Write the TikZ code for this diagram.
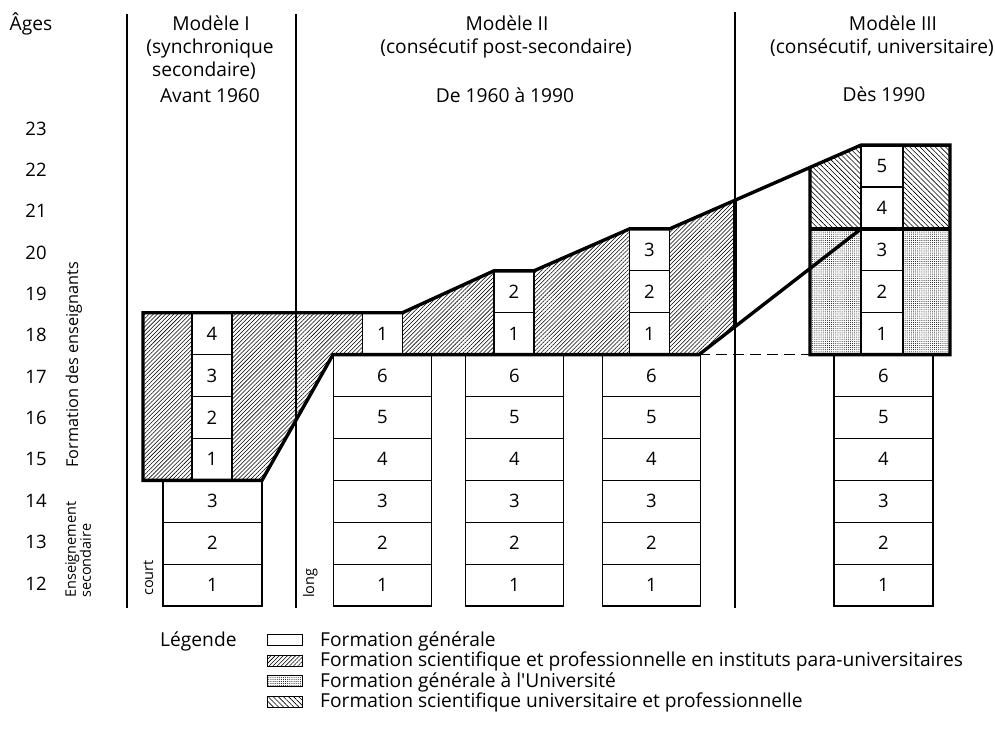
\documentclass[tikz,border=0pt]{standalone}
\usepackage{fontspec}
\setmainfont{Open Sans}
\newfontfamily\plainfont{Open Sans}
\usetikzlibrary{patterns,patterns.meta}
\newcommand\mainfs{\fontsize{19.2}{22}\selectfont}
\newcommand\numfs{\fontsize{18.5}{22}\selectfont}
\newcommand\smallfs{\fontsize{14.5}{15}\selectfont}
\newcommand\midfs{\fontsize{16.3}{17}\selectfont}
\begin{document}
\begin{tikzpicture}[x=1pt,y=-1pt,
  gbox/.style={draw, line width=1.2pt, fill=white, inner sep=0pt, minimum height=41.9pt, font=\numfs},
  hatchpu/.style={pattern={Lines[angle=45,distance=2.9pt,line width=0.55pt]}},
  hatchun/.style={pattern={Lines[angle=-45,distance=3.6pt,line width=0.6pt]}},
  dotsun/.style={pattern={Dots[radius=0.5pt,distance=2.1pt]}},
  thickline/.style={line width=3.4pt, line join=miter},
  divider/.style={line width=1.2pt},
  lbl/.style={font=\mainfs, inner sep=0pt},
  nlbl/.style={font=\numfs, inner sep=0pt},
  slbl/.style={font=\smallfs, inner sep=0pt},
  swatch/.style={draw, line width=0.9pt, minimum width=35pt, minimum height=11pt, inner sep=0pt}
]
\useasboundingbox (0,0) rectangle (995,734);

% ---------- dividers ----------
\coordinate (d1t) at (127,14);  \coordinate (d1b) at (127,608);
\coordinate (d2t) at (296,14);  \coordinate (d2b) at (296,608);
\coordinate (d3t) at (735,12);  \coordinate (d3b) at (735,608);
\draw[divider] (d1t) -- (d1b);
\draw[divider] (d2t) -- (d2b);
\draw[divider] (d3t) -- (d3b);

% ---------- hatched / dotted regions ----------
\fill[hatchpu] (143,312.7) rectangle (192,480.3);
\fill[hatchpu] (232,312.7) -- (362.5,312.7) -- (362.5,354.6) -- (333,354.6) -- (262,480.3) -- (232,480.3) -- cycle;
\fill[hatchpu] (402.5,312.7) -- (494,270.8) -- (494,354.6) -- (402.5,354.6) -- cycle;
\fill[hatchpu] (534,270.8) -- (629.5,228.9) -- (629.5,354.6) -- (534,354.6) -- cycle;
\fill[hatchpu] (669.5,228.9) -- (735,200.2) -- (735,326.7) -- (699,354.6) -- (669.5,354.6) -- cycle;
\fill[hatchun] (810,167.4) -- (861,145.1) -- (861,228.9) -- (810,228.9) -- cycle;
\fill[hatchun] (903,145.1) rectangle (950,228.9);
\fill[dotsun] (810,228.9) rectangle (861,354.6);
\fill[dotsun] (903,228.9) rectangle (950,354.6);

% ---------- Model I boxes ----------
\foreach \k in {0,1,2}{
  \pgfmathtruncatemacro\n{\k+1}
  \node[gbox, minimum width=99pt] (sA-\n) at (212.5,{606-41.9*(\k+0.5)}) {\n};
}
\foreach \k in {3,...,6}{
  \pgfmathtruncatemacro\n{\k-2}
  \node[gbox, minimum width=40pt] (tA-\n) at (212,{606-41.9*(\k+0.5)}) {\n};
}

% ---------- Model II boxes ----------
\foreach \c/\xc in {b/382.5, c/514.5, d/651.5}{
  \foreach \k in {0,...,5}{
    \pgfmathtruncatemacro\n{\k+1}
    \node[gbox, minimum width=98pt] (s\c-\n) at (\xc,{606-41.9*(\k+0.5)}) {\n};
  }
}
\node[gbox, minimum width=40pt] (tb-1) at (382.5,{606-41.9*6.5}) {1};
\foreach \k in {6,7}{
  \pgfmathtruncatemacro\n{\k-5}
  \node[gbox, minimum width=40pt] (tc-\n) at (514,{606-41.9*(\k+0.5)}) {\n};
}
\foreach \k in {6,7,8}{
  \pgfmathtruncatemacro\n{\k-5}
  \node[gbox, minimum width=40pt] (td-\n) at (649.5,{606-41.9*(\k+0.5)}) {\n};
}

% ---------- Model III boxes ----------
\foreach \k in {0,...,5}{
  \pgfmathtruncatemacro\n{\k+1}
  \node[gbox, minimum width=99pt] (se-\n) at (883.5,{606-41.9*(\k+0.5)}) {\n};
}
\foreach \k in {6,...,10}{
  \pgfmathtruncatemacro\n{\k-5}
  \node[gbox, minimum width=42pt] (te-\n) at (882,{606-41.9*(\k+0.5)}) {\n};
}

% ---------- thick outlines ----------
\draw[thickline] (143,312.7) -- (402.5,312.7) -- (494,270.8) -- (534,270.8) -- (629.5,228.9) -- (669.5,228.9) -- (861,145.1) -- (950,145.1) -- (950,354.6) -- (810,354.6) -- (810,167.4);
\draw[thickline] (143,311) -- (143,480.3) -- (262,480.3) -- (333,354.6) -- (699,354.6) -- (861,228.9);
\draw[thickline] (735,200.2) -- (735,326.7);
\draw[thickline] (810,228.9) -- (950,228.9);
\draw[line width=1.5pt, dash pattern=on 11pt off 6pt] (699,354.6) -- (810,354.6);

% ---------- ages ----------
\node[lbl, anchor=base] (ages) at (31,30) {Âges};
\foreach \a in {12,...,23}{
  \node[nlbl] (age\a) at (36,{583.5-41.36*(\a-12)}) {\a};
}

% ---------- rotated side labels ----------
\node[font=\midfs, inner sep=0pt, rotate=90, anchor=base west] (lfe) at (78,468) {Formation des enseignants};
\node[slbl, rotate=90, anchor=north west, align=left] (les) at (65,598) {Enseignement\\secondaire};
\node[slbl, rotate=90, anchor=base west] (lcourt) at (153,596) {court};
\node[slbl, rotate=90, anchor=base west] (llong) at (314,598) {long};

% ---------- headers ----------
\node[lbl, anchor=base] (h1a) at (211,30) {Modèle I};
\node[lbl, anchor=base] (h1b) at (210,53) {(synchronique};
\node[lbl, anchor=base] (h1c) at (204,76) {secondaire)};
\node[lbl, anchor=base] (h1d) at (210,102) {Avant 1960};
\node[lbl, anchor=base] (h2a) at (507,30) {Modèle II};
\node[lbl, anchor=base] (h2b) at (506,53) {(consécutif post-secondaire)};
\node[lbl, anchor=base] (h2d) at (505,102) {De 1960 à 1990};
\node[lbl, anchor=base] (h3a) at (893,30) {Modèle III};
\node[lbl, anchor=base] (h3b) at (882,53) {(consécutif, universitaire)};
\node[lbl, anchor=base] (h3d) at (884,101) {Dès 1990};

% ---------- legend ----------
\node[lbl, anchor=base west] (leg) at (160,646) {Légende};
\node[swatch] (sw1) at (284.5,640) {};
\node[swatch, hatchpu] (sw2) at (284.5,660.5) {};
\node[swatch, dotsun] (sw3) at (284.5,681) {};
\node[swatch, hatchun] (sw4) at (284.5,701.5) {};
\node[lbl, anchor=base west] (lt1) at (320,646) {Formation générale};
\node[lbl, anchor=base west] (lt2) at (320,666.5) {Formation scientifique et professionnelle en instituts para-universitaires};
\node[lbl, anchor=base west] (lt3) at (320,687) {\plainfont Formation générale à l'Université};
\node[lbl, anchor=base west] (lt4) at (320,707.5) {Formation scientifique universitaire et professionnelle};
\end{tikzpicture}
\end{document}
